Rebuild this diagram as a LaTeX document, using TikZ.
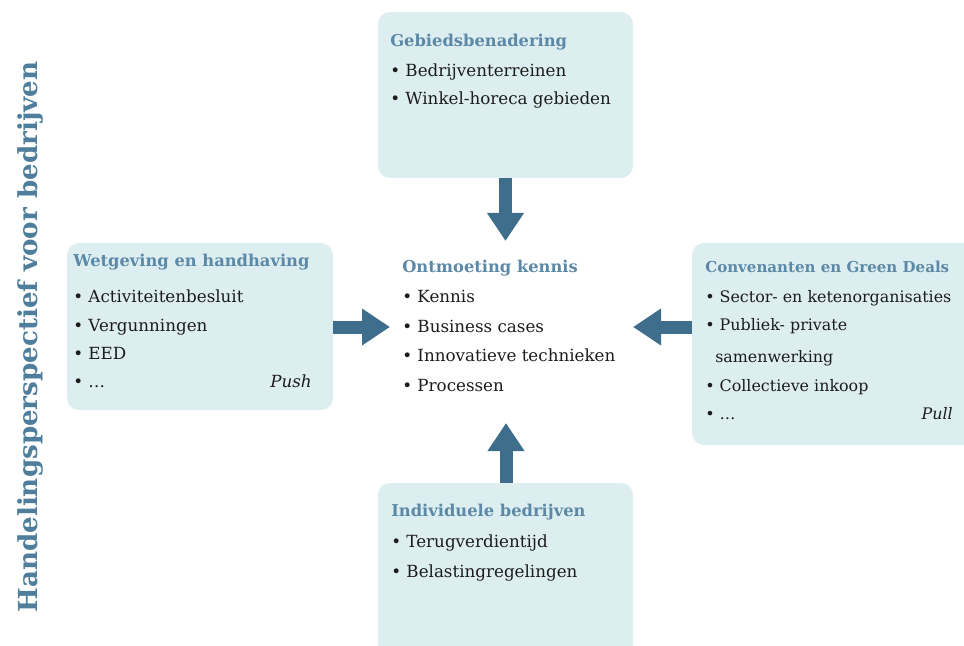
\documentclass[tikz,border=0pt]{standalone}
\usepackage{fontspec}
\setmainfont{DejaVu Serif}
\usetikzlibrary{arrows.meta}
\definecolor{boxfill}{RGB}{221,238,241}
\definecolor{titleblue}{RGB}{92,137,166}
\definecolor{arrowblue}{RGB}{62,110,140}
\definecolor{sideblue}{RGB}{78,126,156}
\definecolor{itemgrey}{RGB}{28,28,28}
\tikzset{
  panel/.style={fill=boxfill,rounded corners=.3cm,inner sep=0pt},
  ptitle/.style={anchor=west,inner sep=0pt,text height=1.6ex,text depth=.45ex,
    font=\fontsize{11.6}{13}\selectfont\bfseries,text=titleblue},
  pitem/.style={anchor=west,inner sep=0pt,text height=1.6ex,text depth=.45ex,
    font=\fontsize{11.9}{14}\selectfont,text=itemgrey},
  % the right panel is narrower for its text
  rtitle/.style={ptitle,font=\fontsize{10.7}{12}\selectfont\bfseries},
  ritem/.style={pitem,font=\fontsize{11.3}{13}\selectfont},
  fat/.style={arrowblue,line width=.325cm,-{Triangle[width=.875cm,length=.7cm]}}
}
\begin{document}
\begin{tikzpicture}
  \useasboundingbox (0,0) rectangle (24.1,16.125);
  \clip (0,0) rectangle (24.1,16.125);
  % side label
  \node[rotate=90,text=sideblue,font=\fontsize{18.6}{22}\selectfont\bfseries] (side) at(.75,7.7){Handelingsperspectief voor bedrijven};
  % panels
  \node[panel,minimum width=6.375cm,minimum height=4.15cm] (top) at(12.6375,13.75){};
  \node[panel,minimum width=6.65cm,minimum height=4.175cm] (left) at(5,7.9625){};
  \node[panel,minimum width=7.45cm,minimum height=5.05cm] (right) at(21.025,7.525){};
  \node[panel,minimum width=6.375cm,minimum height=4.55cm] (bottom) at(12.6375,1.775){};
  % top
  \node[ptitle] (t0) at(9.75,15.075){Gebiedsbenadering};
  \node[pitem] (t1) at(9.75,14.325){• Bedrijventerreinen};
  \node[pitem] (t2) at(9.75,13.625){• Winkel-horeca gebieden};
  % left
  \node[ptitle] (l0) at(1.825,9.575){Wetgeving en handhaving};
  \node[pitem] (l1) at(1.825,8.675){• Activiteitenbesluit};
  \node[pitem] (l2) at(1.825,7.95){• Vergunningen};
  \node[pitem] (l3) at(1.825,7.25){• EED};
  \node[pitem] (l4) at(1.825,6.55){• …};
  \node[pitem,anchor=east,font=\fontsize{11.9}{14}\selectfont\itshape] (push) at(7.8,6.55){Push};
  % center
  \node[ptitle] (c0) at(10.05,9.425){Ontmoeting kennis};
  \node[pitem] (c1) at(10.05,8.675){• Kennis};
  \node[pitem] (c2) at(10.05,7.925){• Business cases};
  \node[pitem] (c3) at(10.05,7.2){• Innovatieve technieken};
  \node[pitem] (c4) at(10.05,6.45){• Processen};
  % right
  \node[rtitle] (r0) at(17.625,9.425){Convenanten en Green Deals};
  \node[ritem] (r1) at(17.625,8.675){• Sector- en ketenorganisaties};
  \node[ritem] (r2) at(17.625,7.975){• Publiek- private};
  \node[ritem] (r3) at(17.875,7.175){samenwerking};
  \node[ritem] (r4) at(17.625,6.45){• Collectieve inkoop};
  \node[ritem] (r5) at(17.625,5.75){• …};
  \node[ritem,anchor=east,font=\fontsize{11.3}{13}\selectfont\itshape] (pull) at(23.825,5.75){Pull};
  % bottom
  \node[ptitle] (b0) at(9.775,3.325){Individuele bedrijven};
  \node[pitem] (b1) at(9.775,2.55){• Terugverdientijd};
  \node[pitem] (b2) at(9.775,1.8){• Belastingregelingen};
  % arrows
  \coordinate (ttip) at(12.6375,10.1);
  \coordinate (ltip) at(9.75,7.95);
  \coordinate (rtip) at(15.825,7.95);
  \coordinate (btip) at(12.65,5.55);
  \draw[fat] (top.south) -- (ttip);
  \draw[fat] (left.east |- ltip) -- (ltip);
  \draw[fat] (right.west |- rtip) -- (rtip);
  \draw[fat] (btip |- bottom.north) -- (btip);
\end{tikzpicture}
\end{document}
